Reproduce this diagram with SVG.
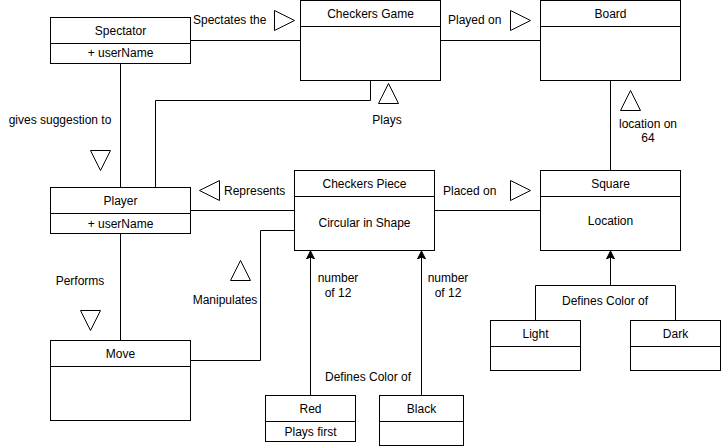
<svg xmlns="http://www.w3.org/2000/svg" width="721" height="446" viewBox="0 0 721 446">
<style>
.box{fill:#fff;stroke:#000;stroke-width:1}
.ln{fill:none;stroke:#000;stroke-width:1}
.tri{fill:#fff;stroke:#000;stroke-width:1}
text{font-family:"Liberation Sans",Arial,sans-serif;font-size:12px;fill:#000}
.c{text-anchor:middle}
</style>
<defs>
<marker id="arr" markerWidth="10" markerHeight="10" refX="8" refY="5" orient="auto" markerUnits="userSpaceOnUse">
<path d="M0,1 L8,5 L0,9 L2,5 Z" fill="#000" stroke="#000" stroke-width="1"/>
</marker>
</defs>
<g id="connectors">
<path class="ln" d="M190.5,40.5 H300.5"/>
<path class="ln" d="M440.5,40.5 H540.5"/>
<path class="ln" d="M370.5,80.5 V100.5 H155.5 V187.5"/>
<path class="ln" d="M610.5,80.5 V170.5"/>
<path class="ln" d="M120.5,63.5 V187.5"/>
<path class="ln" d="M120.5,233.5 V340.5"/>
<path class="ln" d="M190.5,210.5 H294.5"/>
<path class="ln" d="M434.5,210.5 H540.5"/>
<path class="ln" d="M190.5,360.5 H260.5 V230.5 H294.5"/>
<path class="ln" d="M310.5,395.5 V251" marker-end="url(#arr)"/>
<path class="ln" d="M421.5,395.5 V251" marker-end="url(#arr)"/>
<path class="ln" d="M610.5,285.5 V251" marker-end="url(#arr)"/>
<path class="ln" d="M535.5,320.5 V285.5 H675.5 V320.5"/>
<polygon class="tri" points="274.5,10.5 294.5,20.5 274.5,30.5"/>
<polygon class="tri" points="510.5,10.5 530.5,20.5 510.5,30.5"/>
<polygon class="tri" points="378.5,103.5 388.5,83.5 398.5,103.5"/>
<polygon class="tri" points="620.5,110.5 630.5,90.5 640.5,110.5"/>
<polygon class="tri" points="90.5,150.5 110.5,150.5 100.5,170.5"/>
<polygon class="tri" points="219.5,180.5 199.5,190.5 219.5,200.5"/>
<polygon class="tri" points="510.5,180.5 530.5,190.5 510.5,200.5"/>
<polygon class="tri" points="230.5,280.5 240.5,260.5 250.5,280.5"/>
<polygon class="tri" points="80.5,310.5 100.5,310.5 90.5,330.5"/>
<text x="193" y="24">Spectates the</text>
<text x="448" y="24">Played on</text>
<text x="387" y="124" class="c">Plays</text>
<text x="648" y="128" class="c">location on</text>
<text x="648" y="142" class="c">64</text>
<text x="60" y="124" class="c">gives suggestion to</text>
<text x="224" y="195">Represents</text>
<text x="443" y="195">Placed on</text>
<text x="80" y="285" class="c">Performs</text>
<text x="225" y="304" class="c">Manipulates</text>
<text x="338" y="282" class="c">number</text>
<text x="338" y="297" class="c">of 12</text>
<text x="448" y="282" class="c">number</text>
<text x="448" y="297" class="c">of 12</text>
<text x="368" y="381" class="c">Defines Color of</text>
<text x="605" y="305" class="c">Defines Color of</text>
</g>
<g id="spectator">
<rect class="box" x="50.5" y="17.5" width="140" height="46"/>
<path class="ln" d="M50.5,43.5 H190.5"/>
<text x="120.5" y="35" class="c">Spectator</text>
<text x="120.5" y="57" class="c">+ userName</text>
</g>
<g id="checkers-game">
<rect class="box" x="300.5" y="0.5" width="140" height="80"/>
<path class="ln" d="M300.5,26.5 H440.5"/>
<text x="370.5" y="18" class="c">Checkers Game</text>
</g>
<g id="board">
<rect class="box" x="540.5" y="0.5" width="140" height="80"/>
<path class="ln" d="M540.5,26.5 H680.5"/>
<text x="610.5" y="18" class="c">Board</text>
</g>
<g id="player">
<rect class="box" x="50.5" y="187.5" width="140" height="46"/>
<path class="ln" d="M50.5,213.5 H190.5"/>
<text x="120.5" y="205" class="c">Player</text>
<text x="120.5" y="228" class="c">+ userName</text>
</g>
<g id="checkers-piece">
<rect class="box" x="294.5" y="170.5" width="140" height="80"/>
<path class="ln" d="M294.5,196.5 H434.5"/>
<text x="364.5" y="188" class="c">Checkers Piece</text>
<text x="364.5" y="227" class="c">Circular in Shape</text>
</g>
<g id="square">
<rect class="box" x="540.5" y="170.5" width="140" height="80"/>
<path class="ln" d="M540.5,196.5 H680.5"/>
<text x="610.5" y="188" class="c">Square</text>
<text x="610.5" y="225" class="c">Location</text>
</g>
<g id="move">
<rect class="box" x="50.5" y="340.5" width="140" height="80"/>
<path class="ln" d="M50.5,366.5 H190.5"/>
<text x="120.5" y="358" class="c">Move</text>
</g>
<g id="red">
<rect class="box" x="265.5" y="395.5" width="90" height="46"/>
<path class="ln" d="M265.5,421.5 H355.5"/>
<text x="310.5" y="413" class="c">Red</text>
<text x="310.5" y="436" class="c">Plays first</text>
</g>
<g id="black">
<rect class="box" x="379.5" y="395.5" width="84" height="50"/>
<path class="ln" d="M379.5,421.5 H463.5"/>
<text x="421.5" y="413" class="c">Black</text>
</g>
<g id="light">
<rect class="box" x="490.5" y="320.5" width="90" height="50"/>
<path class="ln" d="M490.5,346.5 H580.5"/>
<text x="535.5" y="338" class="c">Light</text>
</g>
<g id="dark">
<rect class="box" x="630.5" y="320.5" width="90" height="50"/>
<path class="ln" d="M630.5,346.5 H720.5"/>
<text x="675.5" y="338" class="c">Dark</text>
</g>
</svg>
